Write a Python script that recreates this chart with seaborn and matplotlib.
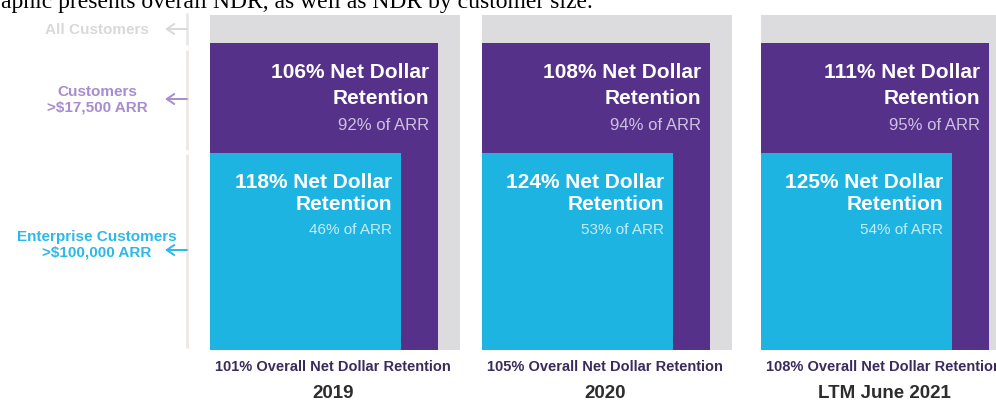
import matplotlib.pyplot as plt
import seaborn as sns

# values
periods = ["2019", "2020", "LTM June 2021"]
overall_ndr = [101, 105, 108]
ndr_over_17500 = [106, 108, 111]
arr_share_over_17500 = [92, 94, 95]
ndr_enterprise = [118, 124, 125]
arr_share_enterprise = [46, 53, 54]

segment_labels = ["All Customers", "Customers\n>$17,500 ARR", "Enterprise Customers\n>$100,000 ARR"]
intro_text = "aphic presents overall NDR, as well as NDR by customer size."

GRAY = "#dcdcdf"
PURPLE = "#563189"
CYAN = "#1eb4e2"
W, H = 996, 403

sns.set_theme(style="white")
plt.rcParams["font.family"] = ["Liberation Sans", "DejaVu Sans"]

fig = plt.figure(figsize=(W / 100, H / 100), dpi=100)

# overlay axes in pixel coordinates for all the text
ov = fig.add_axes([0, 0, 1, 1], zorder=10)
ov.set_xlim(0, W)
ov.set_ylim(H, 0)
ov.axis("off")
ov.patch.set_alpha(0)

panel_left = [210, 482, 761]
panel_w, top, bottom = 250, 15, 350

for i, period in enumerate(periods):
    left = panel_left[i]
    ax = fig.add_axes([left / W, (H - bottom) / H, panel_w / W, (bottom - top) / H])
    ax.bar(0, 1.0, width=1.0, align="edge", color=GRAY, linewidth=0)
    ax.bar(0, 0.916, width=0.912, align="edge", color=PURPLE, linewidth=0)
    ax.bar(0, 0.588, width=0.764, align="edge", color=CYAN, linewidth=0)
    ax.set_xlim(0, 1)
    ax.set_ylim(0, 1)
    ax.axis("off")

    ov.text(left + 219, 72, f"{ndr_over_17500[i]}% Net Dollar", ha="right", va="center",
            color="white", fontsize=15, fontweight="bold")
    ov.text(left + 219, 99, "Retention", ha="right", va="center",
            color="white", fontsize=15, fontweight="bold")
    ov.text(left + 219, 126, f"{arr_share_over_17500[i]}% of ARR", ha="right", va="center",
            color="#cdc2e2", fontsize=12)

    ov.text(left + 182, 182, f"{ndr_enterprise[i]}% Net Dollar", ha="right", va="center",
            color="white", fontsize=15, fontweight="bold")
    ov.text(left + 182, 205, "Retention", ha="right", va="center",
            color="white", fontsize=15, fontweight="bold")
    ov.text(left + 182, 230, f"{arr_share_enterprise[i]}% of ARR", ha="right", va="center",
            color="#c5ecf9", fontsize=11)

    ov.text(left + 123, 367, f"{overall_ndr[i]}% Overall Net Dollar Retention", ha="center",
            va="center", color="#3a2b5c", fontsize=10.5, fontweight="bold")
    ov.text(left + 123, 394, period, ha="center", va="center",
            color="#2d2d2d", fontsize=13.5, fontweight="bold")

# left-hand legend with arrows
line_x = 187
ov.plot([line_x, line_x], [13, 45], color="#e8e8e8", lw=2, solid_capstyle="butt")
ov.plot([line_x, line_x], [50, 150], color="#efe7e3", lw=2, solid_capstyle="butt")
ov.plot([line_x, line_x], [154, 348], color="#efe7e3", lw=2, solid_capstyle="butt")

label_colors = ["#d9d9d9", "#a78ccf", "#2cb9e8"]
label_y = [30, 100, 245]
arrow_y = [29, 99, 250]
for lab, col, ly, ay in zip(segment_labels, label_colors, label_y, arrow_y):
    ov.text(97, ly, lab, ha="center", va="center", color=col, fontsize=11,
            fontweight="bold", linespacing=1.15)
    ov.annotate("", xy=(165, ay), xytext=(line_x, ay),
                arrowprops=dict(arrowstyle="->,head_length=0.45,head_width=0.3",
                                color=col, lw=1.4, shrinkA=0, shrinkB=0))

# cropped sentence at the top
ov.text(1, 8, intro_text, ha="left", va="baseline", color="black", fontsize=17,
        family=["Liberation Serif", "DejaVu Serif"])

fig.savefig("out.png", dpi=100)
